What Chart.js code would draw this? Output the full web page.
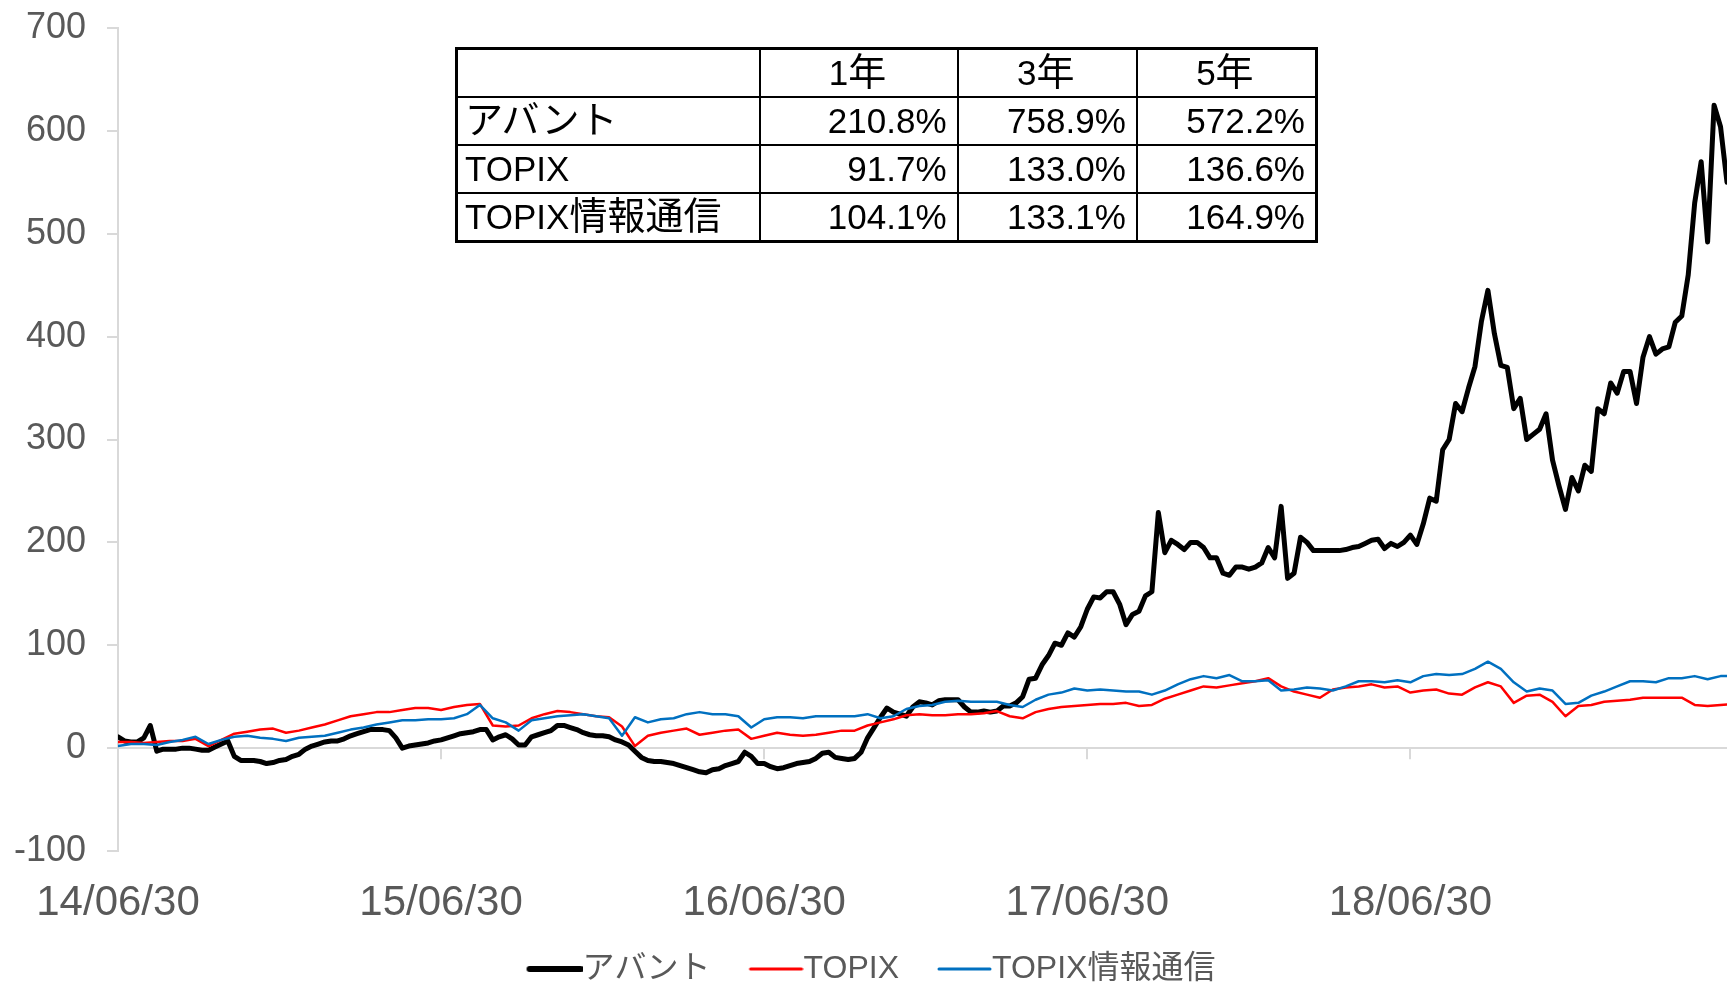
<!DOCTYPE html>
<html>
<head>
<meta charset="utf-8">
<script src="https://cdn.jsdelivr.net/npm/chart.js@4/dist/chart.umd.min.js"></script>
<style>
  body { margin: 0; background: #fff; }
  #wrap { position: relative; width: 1727px; height: 982px; }
  #returns {
    position: absolute; left: 455px; top: 47px; width: 863px;
    border-collapse: collapse; border: 3px solid #000;
    font-family: 'Liberation Sans', Arial, 'Noto Sans CJK JP', sans-serif;
    font-size: 35px; color: #000; background: #fff;
  }
  #returns td { border: 2px solid #000; height: 46px; padding: 0 10px 0 7px; line-height: 46px; white-space: nowrap; }
  #returns td.num { text-align: right; }
  #returns tr.head td { text-align: center; }
  #returns .jp { font-family: 'Noto Sans CJK JP', sans-serif; font-size: 38px; line-height: 0; }
</style>
</head>
<body>
<div id="wrap">
  <canvas id="perfChart" width="1727" height="982"></canvas>
  <table id="returns"></table>
</div>
<script>
// Data: cumulative return (%) from 14/06/30, avant sampled every 0.02 yr, indices every 0.04 yr
const AVANT_STEP = 0.02;
const INDEX_STEP = 0.04;
const seriesNames = ['アバント', 'TOPIX', 'TOPIX情報通信'];
const tickYears = [0, 1, 2, 3, 4];
const tickLabels = ['14/06/30', '15/06/30', '16/06/30', '17/06/30', '18/06/30'];

const avant = [
    11, 7, 6, 6, 10, 22, -3, -1, -1, -1,
    0, 0, -1, -2, -2, 1, 4, 7, -8, -12,
    -12, -12, -13, -15, -14, -12, -11, -8, -6, -1,
    2, 4, 6, 7, 7, 9, 12, 14, 16, 18,
    18, 18, 17, 10, 0, 2, 3, 4, 5, 7,
    8, 10, 12, 14, 15, 16, 18, 18, 8, 11,
    13, 9, 3, 3, 11, 13, 15, 17, 22, 22,
    20, 18, 15, 13, 12, 12, 11, 8, 6, 3,
    -3, -9, -12, -13, -13, -14, -15, -17, -19, -21,
    -23, -24, -21, -20, -17, -15, -13, -4, -8, -15,
    -15, -18, -20, -19, -17, -15, -14, -13, -10, -5,
    -4, -9, -10, -11, -10, -4, 10, 20, 30, 39,
    35, 33, 31, 40, 45, 44, 42, 46, 47, 47,
    47, 40, 35, 35, 36, 35, 36, 41, 41, 44,
    50, 67, 68, 81, 90, 102, 100, 112, 108, 118,
    135, 147, 146, 152, 152, 140, 120, 130, 133, 148,
    152, 229, 190, 202, 198, 193, 200, 200, 195, 185,
    185, 170, 168, 176, 176, 174, 176, 180, 195, 185,
    235, 165, 170, 205, 200, 192, 192, 192, 192, 192,
    193, 195, 196, 199, 202, 203, 194, 199, 196, 200,
    207, 198, 218, 243, 240, 290, 300, 335, 327, 350,
    371, 415, 445, 403, 372, 370, 330, 340, 300, 305,
    310, 325, 280, 255, 232, 263, 250, 275, 269, 330,
    325, 355, 345, 366, 366, 335, 380, 400, 383, 388,
    390, 414, 420, 460, 530, 570, 492, 625, 604, 550
];
const topix = [
    6, 6, 5, 6, 7, 7, 9, 2, 8, 14,
    16, 18, 19, 15, 17, 20, 23, 27, 31, 33,
    35, 35, 37, 39, 39, 37, 40, 42, 43, 22,
    21, 22, 29, 33, 36, 35, 33, 31, 30, 21,
    2, 12, 15, 17, 19, 13, 15, 17, 18, 9,
    12, 15, 13, 12, 13, 15, 17, 17, 22, 25,
    28, 32, 33, 32, 32, 33, 33, 34, 36, 31,
    29, 35, 38, 40, 41, 42, 43, 43, 44, 41,
    42, 48, 52, 56, 60, 59, 61, 63, 65, 68,
    60, 55, 52, 49, 57, 59, 60, 62, 59, 60,
    54, 56, 57, 53, 52, 59, 64, 60, 44, 51,
    52, 45, 31, 41, 42, 45, 46, 47, 49, 49,
    49, 49, 42, 41, 42, 43
];
const topixIT = [
    2, 4, 4, 3, 6, 8, 11, 4, 8, 11,
    12, 10, 9, 7, 10, 11, 12, 15, 18, 20,
    23, 25, 27, 27, 28, 28, 29, 33, 42, 29,
    25, 17, 27, 29, 31, 32, 33, 31, 29, 12,
    30, 25, 28, 29, 33, 35, 33, 33, 31, 20,
    28, 30, 30, 29, 31, 31, 31, 31, 33, 29,
    31, 38, 41, 42, 45, 46, 45, 45, 45, 42,
    40, 47, 52, 54, 58, 56, 57, 56, 55, 55,
    52, 56, 62, 67, 70, 68, 71, 65, 65, 66,
    56, 57, 59, 58, 56, 60, 65, 65, 64, 66,
    64, 70, 72, 71, 72, 77, 84, 77, 64, 55,
    58, 56, 43, 44, 51, 55, 60, 65, 65, 64,
    68, 68, 70, 67, 70, 70
];

// Table of period returns
const periodLabels = ['1年', '3年', '5年'];
const avantReturns = ['210.8%', '758.9%', '572.2%'];
const topixReturns = ['91.7%', '133.0%', '136.6%'];
const topixITReturns = ['104.1%', '133.1%', '164.9%'];

function toPoints(values, step) {
    return values.map((v, i) => ({ x: i * step, y: v }));
}

// wrap japanese characters so they get the slightly bigger CJK size
function jp(text) {
    return text.replace(/([\u3000-\u9fff]+)/g, '<span class="jp">$1</span>');
}

// Build the returns table
const table = document.getElementById('returns');
let html = '<tr class="head"><td style="width:284px"></td>' +
    periodLabels.map((p, i) => '<td style="width:' + [178, 160, 160][i] + 'px">' + jp(p) + '</td>').join('') + '</tr>';
[avantReturns, topixReturns, topixITReturns].forEach((row, i) => {
    html += '<tr><td>' + jp(seriesNames[i]) + '</td>' + row.map(v => '<td class="num">' + v + '</td>').join('') + '</tr>';
});
table.innerHTML = html;

const FONT = "'Liberation Sans', Arial, 'Noto Sans CJK JP', sans-serif";
Chart.defaults.font.family = FONT;
Chart.defaults.color = '#595959';

// legend marker: a line that sits right against the label text
function legendLine(color, width) {
    const c = document.createElement('canvas');
    c.width = 87;
    c.height = 12;
    const g = c.getContext('2d');
    g.strokeStyle = color;
    g.lineWidth = width;
    g.lineCap = 'round';
    g.beginPath();
    g.moveTo(34, 6);
    g.lineTo(85, 6);
    g.stroke();
    return c;
}

// small tick marks hanging under the zero line
const xTickMarks = {
    id: 'xTickMarks',
    beforeDatasetsDraw(chart) {
        const { ctx, scales: { x, y } } = chart;
        const y0 = y.getPixelForValue(0);
        ctx.save();
        ctx.strokeStyle = '#d9d9d9';
        ctx.lineWidth = 2;
        x.ticks.forEach(t => {
            const px = Math.round(x.getPixelForValue(t.value));
            ctx.beginPath();
            ctx.moveTo(px, y0);
            ctx.lineTo(px, y0 + 11);
            ctx.stroke();
        });
        ctx.restore();
    }
};

const perfChart = new Chart(document.getElementById('perfChart'), {
    type: 'line',
    data: {
        datasets: [{
            label: seriesNames[0],
            data: toPoints(avant, AVANT_STEP),
            borderColor: '#000000',
            borderWidth: 5,
            pointStyle: legendLine('#000000', 6),
            order: 3
        }, {
            label: seriesNames[1],
            data: toPoints(topix, INDEX_STEP),
            borderColor: '#ff0000',
            borderWidth: 2.5,
            pointStyle: legendLine('#ff0000', 3),
            order: 2
        }, {
            label: seriesNames[2],
            data: toPoints(topixIT, INDEX_STEP),
            borderColor: '#0070c0',
            borderWidth: 2.5,
            pointStyle: legendLine('#0070c0', 3),
            order: 1
        }]
    },
    options: {
        responsive: false,
        animation: false,
        elements: {
            point: { radius: 0 },
            line: { tension: 0, borderJoinStyle: 'round', borderCapStyle: 'round' }
        },
        layout: { padding: { top: 28, right: 0, left: 0, bottom: -13 } },
        scales: {
            x: {
                type: 'linear',
                min: 0,
                max: 4.98,
                afterBuildTicks: scale => { scale.ticks = tickYears.map(v => ({ value: v })); },
                afterFit: scale => { scale.height = 80; },
                grid: { display: false },
                border: { display: false },
                ticks: {
                    padding: 19,
                    maxRotation: 0,
                    autoSkip: false,
                    font: { size: 42 },
                    callback: value => tickLabels[tickYears.indexOf(value)]
                }
            },
            y: {
                min: -100,
                max: 700,
                afterFit: scale => { scale.width = 118; },
                grid: {
                    color: ctx => ctx.tick && ctx.tick.value === 0 ? '#d9d9d9' : 'rgba(0,0,0,0)',
                    tickColor: '#d9d9d9',
                    tickLength: 11,
                    lineWidth: 2
                },
                border: { color: '#d9d9d9', width: 2 },
                ticks: {
                    stepSize: 100,
                    padding: 21,
                    font: { size: 36, lineHeight: 0.2 }
                }
            }
        },
        plugins: {
            legend: {
                position: 'bottom',
                labels: {
                    usePointStyle: true,
                    pointStyleWidth: 55,
                    padding: 22,
                    color: '#595959',
                    font: { size: 32 },
                    sort: (a, b) => a.datasetIndex - b.datasetIndex
                }
            },
            tooltip: { enabled: false }
        }
    },
    plugins: [xTickMarks]
});
</script>
</body>
</html>
